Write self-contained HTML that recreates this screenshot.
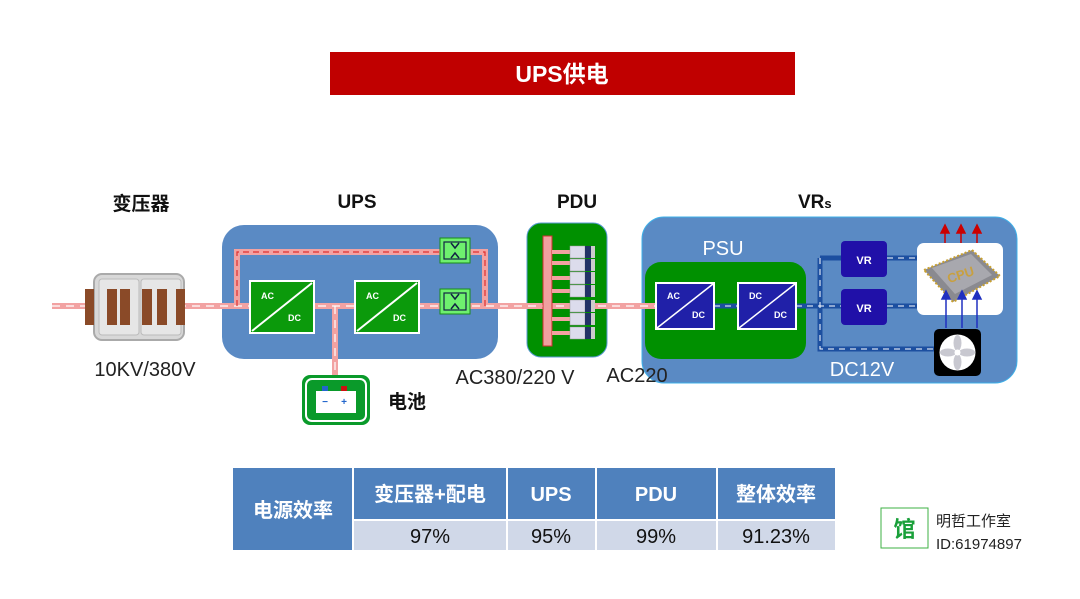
<!DOCTYPE html>
<html><head><meta charset="utf-8"><style>
html,body{margin:0;padding:0;background:#fff;}
body{width:1080px;height:599px;overflow:hidden;position:relative;font-family:"Liberation Sans","Noto Sans CJK SC",sans-serif;}
svg{position:absolute;left:0;top:0;}
text{font-family:"Liberation Sans","Noto Sans CJK SC",sans-serif;}
</style></head><body>
<svg width="1080" height="599" viewBox="0 0 1080 599">
<defs>
<g id="conv">
<rect x="0" y="0" width="64" height="52" fill="#0b9a0b" stroke="#fff" stroke-width="2"/>
<line x1="2" y1="50" x2="62" y2="2" stroke="#fff" stroke-width="2"/>
<text x="11" y="18" font-size="9" font-weight="bold" fill="#fff">AC</text>
<text x="38" y="40" font-size="9" font-weight="bold" fill="#fff">DC</text>
</g>
<g id="sw">
<rect x="0" y="0" width="30" height="25" fill="#6ef06e" stroke="#1a8a1a" stroke-width="1"/>
<rect x="4" y="4" width="22" height="17" fill="none" stroke="#124" stroke-width="1.2"/>
<path d="M11 5 l4 5 l4 -5 M11 20 l4 -5 l4 5" stroke="#124" stroke-width="1.5" fill="none"/>
</g>
<g id="outlet">
<rect x="0" y="-6" width="15" height="12" fill="#dcdcec" stroke="#999" stroke-width="0.5"/>
<rect x="15" y="-6" width="6" height="12" fill="#223366"/>
<rect x="21" y="-6" width="4" height="12" fill="#ccc"/>
</g>
</defs>

<rect x="330" y="52" width="465" height="43" fill="#c00000"/>
<text x="562" y="82" font-size="23" font-weight="bold" fill="#fff" text-anchor="middle">UPS供电</text>

<text x="141" y="210" font-size="19" font-weight="bold" fill="#111" text-anchor="middle">变压器</text>
<text x="357" y="208" font-size="19" font-weight="bold" fill="#111" text-anchor="middle">UPS</text>
<text x="577" y="208" font-size="19" font-weight="bold" fill="#111" text-anchor="middle">PDU</text>
<text x="798" y="208" font-size="19" font-weight="bold" fill="#111">VR<tspan font-size="13">s</tspan></text>

<rect x="222" y="225" width="276" height="134" rx="22" fill="#5a8ac4"/>
<rect x="527" y="223" width="80" height="134" rx="14" fill="#009000" stroke="#5a9ad4" stroke-width="1"/>
<rect x="642" y="217" width="375" height="166" rx="22" fill="#5a8ac4" stroke="#3fb0e8" stroke-width="1"/>
<rect x="645" y="262" width="161" height="97" rx="16" fill="#009000"/>
<text x="723" y="255" font-size="20" fill="#fff" text-anchor="middle">PSU</text>

<g stroke="#f2a2a2" stroke-width="6" fill="none">
<path d="M52 306 H656"/>
<path d="M237 306 V252 H485 V306"/>
<path d="M335 306 V376"/>
</g>
<g stroke="#fff" stroke-width="1.2" fill="none" stroke-dasharray="8 6">
<path d="M52 306 H656"/>
<path d="M335 306 V376"/>
</g>
<g stroke="#e03030" stroke-width="1.2" fill="none" stroke-dasharray="6 4">
<path d="M237 306 V252 H485 V306"/>
</g>

<rect x="94" y="274" width="90" height="66" rx="8" fill="#d8d8d8" stroke="#aaa" stroke-width="2"/>
<rect x="99" y="279" width="40" height="56" rx="3" fill="#e6e6e6" stroke="#bbb"/>
<rect x="141" y="279" width="40" height="56" rx="3" fill="#e6e6e6" stroke="#bbb"/>
<rect x="85" y="289" width="9" height="36" fill="#8a4a28"/>
<rect x="107" y="289" width="10" height="36" fill="#8a4a28"/>
<rect x="120" y="289" width="10" height="36" fill="#8a4a28"/>
<rect x="142" y="289" width="10" height="36" fill="#8a4a28"/>
<rect x="157" y="289" width="10" height="36" fill="#8a4a28"/>
<rect x="176" y="289" width="9" height="36" fill="#8a4a28"/>

<use href="#conv" x="250" y="281"/>
<use href="#conv" x="355" y="281"/>
<use href="#sw" x="440" y="238"/>
<use href="#sw" x="440" y="289"/>

<rect x="302" y="375" width="68" height="50" rx="8" fill="#0a9a2a"/>
<rect x="306" y="379" width="60" height="42" rx="6" fill="none" stroke="#fff" stroke-width="2"/>
<rect x="316" y="391" width="40" height="22" fill="#fff"/>
<rect x="322" y="386" width="6" height="5" fill="#2266cc"/>
<rect x="341" y="386" width="6" height="5" fill="#cc1111"/>
<text x="325" y="405" font-size="10" fill="#2266cc" text-anchor="middle" font-weight="bold">−</text>
<text x="344" y="405" font-size="10" fill="#2266cc" text-anchor="middle" font-weight="bold">+</text>
<text x="388" y="408" font-size="19" font-weight="bold" fill="#111">电池</text>

<g>
<rect x="543" y="236" width="9" height="110" fill="#f0a0a0" stroke="#d03030" stroke-width="1"/>
<g stroke="#f2a2a2" stroke-width="4">
<path d="M552 252 H571 M552 263 H571 M552 278 H571 M552 291 H571 M552 319 H571 M552 333 H571"/>
</g>
<use href="#outlet" x="570" y="252"/><use href="#outlet" x="570" y="265"/><use href="#outlet" x="570" y="278"/>
<use href="#outlet" x="570" y="291"/><use href="#outlet" x="570" y="306"/><use href="#outlet" x="570" y="319"/><use href="#outlet" x="570" y="333"/>
</g>

<g stroke="#1c4fa0" stroke-width="5" fill="none">
<path d="M714 306 H738"/>
<path d="M796 306 H841"/>
<path d="M820 258 V349 H936"/>
<path d="M820 258 H841"/>
<path d="M887 258 H917 M887 306 H917"/>
</g>
<g stroke="#fff" stroke-width="1" fill="none" stroke-dasharray="6 5">
<path d="M714 306 H738"/><path d="M796 306 H841"/><path d="M820 258 V349 H936"/><path d="M887 258 H917 M887 306 H917"/>
</g>

<g>
<rect x="656" y="283" width="58" height="46" fill="#2020a8" stroke="#fff" stroke-width="2"/>
<line x1="657" y1="328" x2="713" y2="284" stroke="#fff" stroke-width="1.5"/>
<text x="667" y="299" font-size="9" font-weight="bold" fill="#fff">AC</text>
<text x="692" y="318" font-size="9" font-weight="bold" fill="#fff">DC</text>
<rect x="738" y="283" width="58" height="46" fill="#2020a8" stroke="#fff" stroke-width="2"/>
<line x1="739" y1="328" x2="795" y2="284" stroke="#fff" stroke-width="1.5"/>
<text x="749" y="299" font-size="9" font-weight="bold" fill="#fff">DC</text>
<text x="774" y="318" font-size="9" font-weight="bold" fill="#fff">DC</text>
</g>

<rect x="841" y="241" width="46" height="36" rx="4" fill="#2010a8"/>
<text x="864" y="264" font-size="11" font-weight="bold" fill="#fff" text-anchor="middle">VR</text>
<rect x="841" y="289" width="46" height="36" rx="4" fill="#2010a8"/>
<text x="864" y="312" font-size="11" font-weight="bold" fill="#fff" text-anchor="middle">VR</text>

<rect x="917" y="243" width="86" height="72" rx="7" fill="#fff"/>
<path d="M924 270 L972 250 L1000 276 L953 302 Z" fill="#8a8a90" stroke="#c8a030" stroke-width="2" stroke-dasharray="2 2"/>
<path d="M932 268 L971 254 L992 275 L955 294 Z" fill="#a8a8ae"/>
<text x="962" y="279" font-size="13" font-weight="bold" fill="#c8a040" text-anchor="middle" transform="rotate(-18 962 279)">CPU</text>
<g stroke="#c00" stroke-width="1.5" fill="#c00">
<path d="M945 243 V232 M961 243 V232 M977 243 V232"/>
<path d="M941 233 L945 225 L949 233 Z M957 233 L961 225 L965 233 Z M973 233 L977 225 L981 233 Z"/>
</g>
<g stroke="#2030c0" stroke-width="1.5" fill="#2030c0">
<path d="M946 328 V298 M962 328 V298 M977 328 V298"/>
<path d="M942 299 L946 291 L950 299 Z M958 299 L962 291 L966 299 Z M973 299 L977 291 L981 299 Z"/>
</g>

<rect x="934" y="329" width="47" height="47" rx="5" fill="#000"/>
<circle cx="957.5" cy="352.5" r="18" fill="#fff"/>
<g fill="#c8c8d0">
<ellipse cx="957.5" cy="343" rx="4" ry="8"/>
<ellipse cx="957.5" cy="362" rx="4" ry="8"/>
<ellipse cx="948" cy="352.5" rx="8" ry="4"/>
<ellipse cx="967" cy="352.5" rx="8" ry="4"/>
</g>
<circle cx="957.5" cy="352.5" r="3" fill="#fff"/>

<text x="145" y="376" font-size="20" fill="#222" text-anchor="middle">10KV/380V</text>
<text x="515" y="384" font-size="20" fill="#222" text-anchor="middle">AC380/220 V</text>
<text x="637" y="382" font-size="20" fill="#222" text-anchor="middle">AC220</text>
<text x="862" y="376" font-size="20" fill="#fff" text-anchor="middle">DC12V</text>

<rect x="233" y="468" width="119" height="82" fill="#4f81bd"/>
<rect x="354" y="468" width="152" height="51" fill="#4f81bd"/>
<rect x="508" y="468" width="87" height="51" fill="#4f81bd"/>
<rect x="597" y="468" width="119" height="51" fill="#4f81bd"/>
<rect x="718" y="468" width="117" height="51" fill="#4f81bd"/>
<rect x="354" y="521" width="152" height="29" fill="#d0d8e8"/>
<rect x="508" y="521" width="87" height="29" fill="#d0d8e8"/>
<rect x="597" y="521" width="119" height="29" fill="#d0d8e8"/>
<rect x="718" y="521" width="117" height="29" fill="#d0d8e8"/>
<g font-size="20" font-weight="bold" fill="#fff" text-anchor="middle">
<text x="293" y="517">电源效率</text>
<text x="430" y="501">变压器+配电</text>
<text x="551" y="501">UPS</text>
<text x="656" y="501">PDU</text>
<text x="776" y="501">整体效率</text>
</g>
<g font-size="20" fill="#111" text-anchor="middle">
<text x="430" y="543">97%</text>
<text x="551" y="543">95%</text>
<text x="656" y="543">99%</text>
<text x="776" y="543">91.23%</text>
</g>

<rect x="881" y="508" width="47" height="40" fill="#fff" stroke="#3cb043" stroke-width="1"/>
<text x="904.5" y="537" font-size="22" font-weight="bold" fill="#1aa03a" text-anchor="middle">馆</text>
<text x="936" y="526" font-size="15" fill="#222">明哲工作室</text>
<text x="936" y="549" font-size="15" fill="#222">ID:61974897</text>
</svg>
</body></html>
